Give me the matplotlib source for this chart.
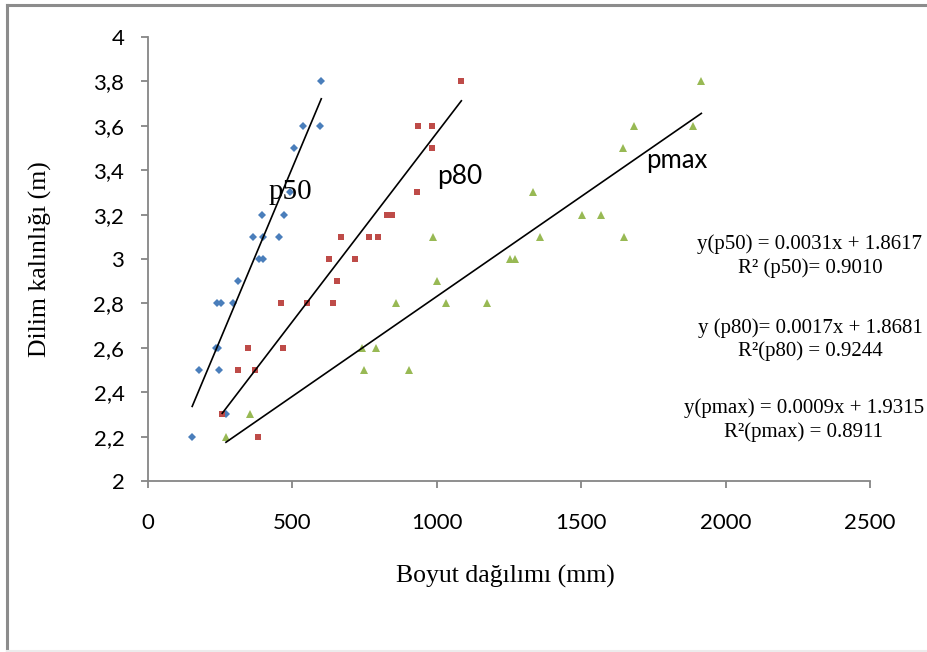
import matplotlib
matplotlib.use('Agg')
from matplotlib import pyplot as plt
from matplotlib.lines import Line2D
from matplotlib.ticker import FuncFormatter

# boyut dağılımı (mm) ve dilim kalınlığı (m)
p50_x = [153, 270, 178, 246, 235, 241, 238, 253, 293, 313, 384, 398,
         364, 398, 454, 394, 471, 492, 504, 536, 596, 600]
p50_y = [2.2, 2.3, 2.5, 2.5, 2.6, 2.6, 2.8, 2.8, 2.8, 2.9, 3.0, 3.0,
         3.1, 3.1, 3.1, 3.2, 3.2, 3.3, 3.5, 3.6, 3.6, 3.8]

p80_x = [382, 257, 312, 369, 345, 467, 460, 552, 640, 653, 628, 716,
         667, 764, 797, 826, 844, 930, 982, 935, 984, 1085]
p80_y = [2.2, 2.3, 2.5, 2.5, 2.6, 2.6, 2.8, 2.8, 2.8, 2.9, 3.0, 3.0,
         3.1, 3.1, 3.1, 3.2, 3.2, 3.3, 3.5, 3.6, 3.6, 3.8]

pmax_x = [270, 353, 748, 905, 742, 789, 860, 1033, 1175, 1000, 1252, 1271,
          986, 1357, 1649, 1502, 1567, 1334, 1646, 1684, 1886, 1916]
pmax_y = [2.2, 2.3, 2.5, 2.5, 2.6, 2.6, 2.8, 2.8, 2.8, 2.9, 3.0, 3.0,
          3.1, 3.1, 3.1, 3.2, 3.2, 3.3, 3.5, 3.6, 3.6, 3.8]

# doğrusal regresyon katsayıları
slopes = [0.0031, 0.0017, 0.0009]
intercepts = [1.8617, 1.8681, 1.9315]
r2_values = [0.9010, 0.9244, 0.8911]

x_ticks = [0, 500, 1000, 1500, 2000, 2500]
y_ticks = [2, 2.2, 2.4, 2.6, 2.8, 3, 3.2, 3.4, 3.6, 3.8, 4]

GRAY = '#868686'
SANS = ['Lato', 'DejaVu Sans']
SERIF = ['Liberation Serif', 'DejaVu Serif']


def tick_label(v, pos):
    s = ('%g' % v)
    return s.replace('.', ',')


def plot_chart():
    fig = plt.figure(figsize=(9.28, 6.52), dpi=100)
    ax = fig.add_axes([148 / 928, 1 - 481 / 652, 722 / 928, 444 / 652])

    series = [
        (p50_x, p50_y, 'D', '#4A7EBB', 4.2),
        (p80_x, p80_y, 's', '#BE4B48', 4.8),
        (pmax_x, pmax_y, '^', '#98B954', 5.2),
    ]
    for (xs, ys, marker, color, ms), a, b in zip(series, slopes, intercepts):
        ax.plot(xs, ys, linestyle='none', marker=marker, color=color,
                markersize=ms, markeredgewidth=0, zorder=3)
        x0, x1 = min(xs), max(xs)
        ax.plot([x0, x1], [a * x0 + b, a * x1 + b], color='black',
                linewidth=1.2, zorder=4)

    ax.set_xlim(0, 2500)
    ax.set_ylim(2, 4)
    ax.set_xticks(x_ticks)
    ax.set_yticks(y_ticks)
    ax.yaxis.set_major_formatter(FuncFormatter(tick_label))

    for side in ['top', 'right']:
        ax.spines[side].set_visible(False)
    for side in ['left', 'bottom']:
        ax.spines[side].set_color(GRAY)
        ax.spines[side].set_linewidth(1.3)
    ax.tick_params(axis='both', direction='out', length=5, width=1.3,
                   color=GRAY, labelsize=16)
    ax.tick_params(axis='y', pad=12)
    ax.tick_params(axis='x', pad=18)
    for lbl in ax.get_xticklabels() + ax.get_yticklabels():
        lbl.set_family(SANS)

    ax.set_xlabel('Boyut dağılımı (mm)', family=SERIF, fontsize=18.5)
    ax.xaxis.set_label_coords(0.495, -0.19)
    ax.set_ylabel('Dilim kalınlığı (m)', family=SERIF, fontsize=18.5)
    ax.yaxis.set_label_coords(-0.133, 0.5)

    # seri etiketleri
    ax.text(492, 3.30, 'p50', family=SERIF, fontsize=21,
            ha='center', va='center', zorder=5)
    ax.text(1080, 3.37, 'p80', family=SANS, fontsize=19,
            ha='center', va='center', zorder=5)
    ax.text(1831, 3.445, 'pmax', family=SANS, fontsize=18.5,
            ha='center', va='center', zorder=5)

    # regresyon denklemleri
    eq_text = [
        ('y(p50) = %.4fx + %.4f\nR² (p50)= %.4f', 2292, 3.013),
        ('y (p80)= %.4fx + %.4f\nR²(p80) = %.4f', 2292, 2.638),
        ('y(pmax) = %.4fx + %.4f\nR²(pmax) = %.4f', 2270, 2.274),
    ]
    for (fmt, tx, ty), a, b, r2 in zip(eq_text, slopes, intercepts, r2_values):
        ax.text(tx, ty, fmt % (a, b, r2), family=SERIF, fontsize=15,
                ha='center', va='center', multialignment='center',
                linespacing=1.25, clip_on=False)

    # grafik alanı çerçevesi
    fig.add_artist(Line2D([7 / 928, 1], [1 - 5 / 652, 1 - 5 / 652],
                          color='#8c8c8c', linewidth=2.2))
    fig.add_artist(Line2D([7 / 928, 7 / 928], [1 / 652, 1 - 5 / 652],
                          color='#8c8c8c', linewidth=2.2))
    fig.add_artist(Line2D([7 / 928, 1], [1 / 652, 1 / 652],
                          color='#ececec', linewidth=1.5))

    fig.savefig('out.png', dpi=100)


if __name__ == '__main__':
    plot_chart()
